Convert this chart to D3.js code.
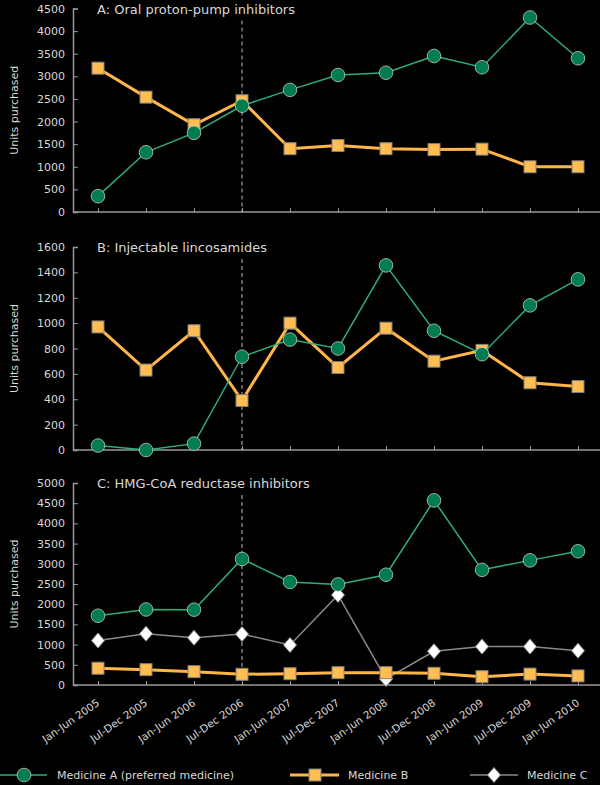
<!DOCTYPE html>
<html>
<head>
<meta charset="utf-8">
<script src="https://cdn.jsdelivr.net/npm/d3@7"></script>
<style>
  html, body { margin: 0; padding: 0; background: #000; }
  svg { display: block; }
  text { font-family: "DejaVu Sans", sans-serif; fill: #d8d8d8; }
</style>
</head>
<body>
<svg id="chart"></svg>
<script>
const periods = ["Jan-Jun 2005", "Jul-Dec 2005", "Jan-Jun 2006", "Jul-Dec 2006", "Jan-Jun 2007",
  "Jul-Dec 2007", "Jan-Jun 2008", "Jul-Dec 2008", "Jan-Jun 2009", "Jul-Dec 2009", "Jan-Jun 2010"];

// A: Oral proton-pump inhibitors
const ppiA = [350, 1320, 1750, 2350, 2700, 3030, 3080, 3450, 3200, 4300, 3400];
const ppiB = [3180, 2540, 1930, 2460, 1400, 1470, 1400, 1380, 1390, 1000, 1000];

// B: Injectable lincosamides
const lincA = [35, 0, 50, 735, 870, 800, 1455, 940, 755, 1140, 1345];
const lincB = [970, 630, 940, 390, 1000, 650, 960, 700, 785, 530, 500];

// C: HMG-CoA reductase inhibitors
const hmgA = [1715, 1870, 1865, 3120, 2550, 2490, 2730, 4570, 2850, 3085, 3310];
const hmgB = [415, 380, 330, 265, 280, 305, 305, 290, 205, 270, 225];
const hmgC = [1100, 1270, 1170, 1260, 990, 2230, 150, 835, 950, 950, 850];

const switchPeriod = "Jul-Dec 2006";

const legendLabels = ["Medicine A (preferred medicine)", "Medicine B", "Medicine C"];

const width = 600, height = 785;
const svg = d3.select("#chart").attr("width", width).attr("height", height);

const x = d3.scalePoint().domain(periods).range([98, 578]);
const axisLeft = 73, axisRight = 600;

const styles = {
  A: { line: "#2fae78", lw: 1.5, marker: "circle" },
  B: { line: "#ffb648", lw: 3, marker: "square" },
  C: { line: "#8a8a8a", lw: 1.5, marker: "diamond" }
};

const panels = [
  { title: "A: Oral proton-pump inhibitors", top: 8.5, bottom: 212, max: 4500, step: 500,
    series: [["B", ppiB], ["A", ppiA]] },
  { title: "B: Injectable lincosamides", top: 247, bottom: 450, max: 1600, step: 200,
    series: [["B", lincB], ["A", lincA]] },
  { title: "C: HMG-CoA reductase inhibitors", top: 483, bottom: 685, max: 5000, step: 500,
    series: [["C", hmgC], ["B", hmgB], ["A", hmgA]] }
];

function drawMarker(g, kind, cx, cy) {
  if (kind === "circle") {
    g.append("circle").attr("cx", cx).attr("cy", cy).attr("r", 6.8)
      .attr("fill", "#007d4e").attr("stroke", "#c8c8c8").attr("stroke-width", 0.8);
  } else if (kind === "square") {
    g.append("rect").attr("x", cx - 6).attr("y", cy - 6).attr("width", 12).attr("height", 12)
      .attr("fill", "#ffbd52").attr("stroke", "#808080").attr("stroke-width", 1);
  } else {
    g.append("path")
      .attr("d", `M${cx},${cy - 7.5}L${cx + 6.5},${cy}L${cx},${cy + 7.5}L${cx - 6.5},${cy}Z`)
      .attr("fill", "#fff").attr("stroke", "#888").attr("stroke-width", 1);
  }
}

panels.forEach((p, pi) => {
  const y = d3.scaleLinear().domain([0, p.max]).range([p.bottom, p.top]);
  const g = svg.append("g");

  // y axis
  const yAxis = d3.axisLeft(y).tickValues(d3.range(0, p.max + 1, p.step))
    .tickSize(-5).tickPadding(8).tickFormat(d3.format("d"));
  const ya = g.append("g").attr("transform", `translate(${axisLeft},0)`).call(yAxis);
  ya.select(".domain").attr("stroke", "#999").attr("stroke-width", 1.5);
  ya.selectAll(".tick line").attr("stroke", "#999");
  ya.selectAll(".tick text").attr("fill", "#d0d0d0").style("font-size", "11px")
    .attr("font-family", "DejaVu Sans, sans-serif");

  // x axis
  const xAxis = d3.axisBottom(x).tickSize(-4).tickFormat(pi === 2 ? null : "");
  const xa = g.append("g").attr("transform", `translate(0,${p.bottom})`).call(xAxis);
  xa.select(".domain").remove();
  xa.append("line").attr("x1", axisLeft).attr("x2", axisRight).attr("stroke", "#999").attr("stroke-width", 1.5);
  xa.selectAll(".tick line").attr("stroke", "#999");
  if (pi === 2) {
    xa.selectAll(".tick text")
      .attr("fill", "#d0d0d0").style("font-size", "10.5px")
      .attr("font-family", "DejaVu Sans, sans-serif")
      .attr("text-anchor", "end")
      .attr("transform", "translate(-2,14) rotate(-35)")
      .attr("dy", "0.35em");
  }

  // y label
  g.append("text")
    .attr("transform", `translate(18,${(p.top + p.bottom) / 2}) rotate(-90)`)
    .attr("text-anchor", "middle").style("font-size", "11px")
    .text("Units purchased");

  // title
  g.append("text").attr("x", 97).attr("y", p.top + 5).style("font-size", "13px")
    .attr("fill", "#e0e0e0")
    .text(p.title);

  // dashed reference line
  g.append("line")
    .attr("x1", x(switchPeriod)).attr("x2", x(switchPeriod))
    .attr("y1", p.top + 12).attr("y2", p.bottom)
    .attr("stroke", "#bbb").attr("stroke-width", 1).attr("stroke-dasharray", "4,3");

  // series
  p.series.forEach(([key, vals]) => {
    const st = styles[key];
    const line = d3.line().x((d, i) => x(periods[i])).y(d => y(d));
    g.append("path").datum(vals).attr("d", line)
      .attr("fill", "none").attr("stroke", st.line).attr("stroke-width", st.lw);
    const mg = g.append("g");
    vals.forEach((v, i) => drawMarker(mg, st.marker, x(periods[i]), y(v)));
  });
});

// legend
const legendX = [[0, 47, 24, 57], [290, 339, 315, 348], [470, 518, 494, 527]];
["A", "B", "C"].forEach((key, i) => {
  const st = styles[key];
  const [x1, x2, mx, tx] = legendX[i];
  const ly = 775;
  svg.append("line").attr("x1", x1).attr("x2", x2).attr("y1", ly).attr("y2", ly)
    .attr("stroke", st.line).attr("stroke-width", st.lw);
  drawMarker(svg, st.marker, mx, ly);
  svg.append("text").attr("x", tx).attr("y", ly).attr("dy", "0.35em")
    .style("font-size", "11px").text(legendLabels[i]);
});
</script>
</body>
</html>
